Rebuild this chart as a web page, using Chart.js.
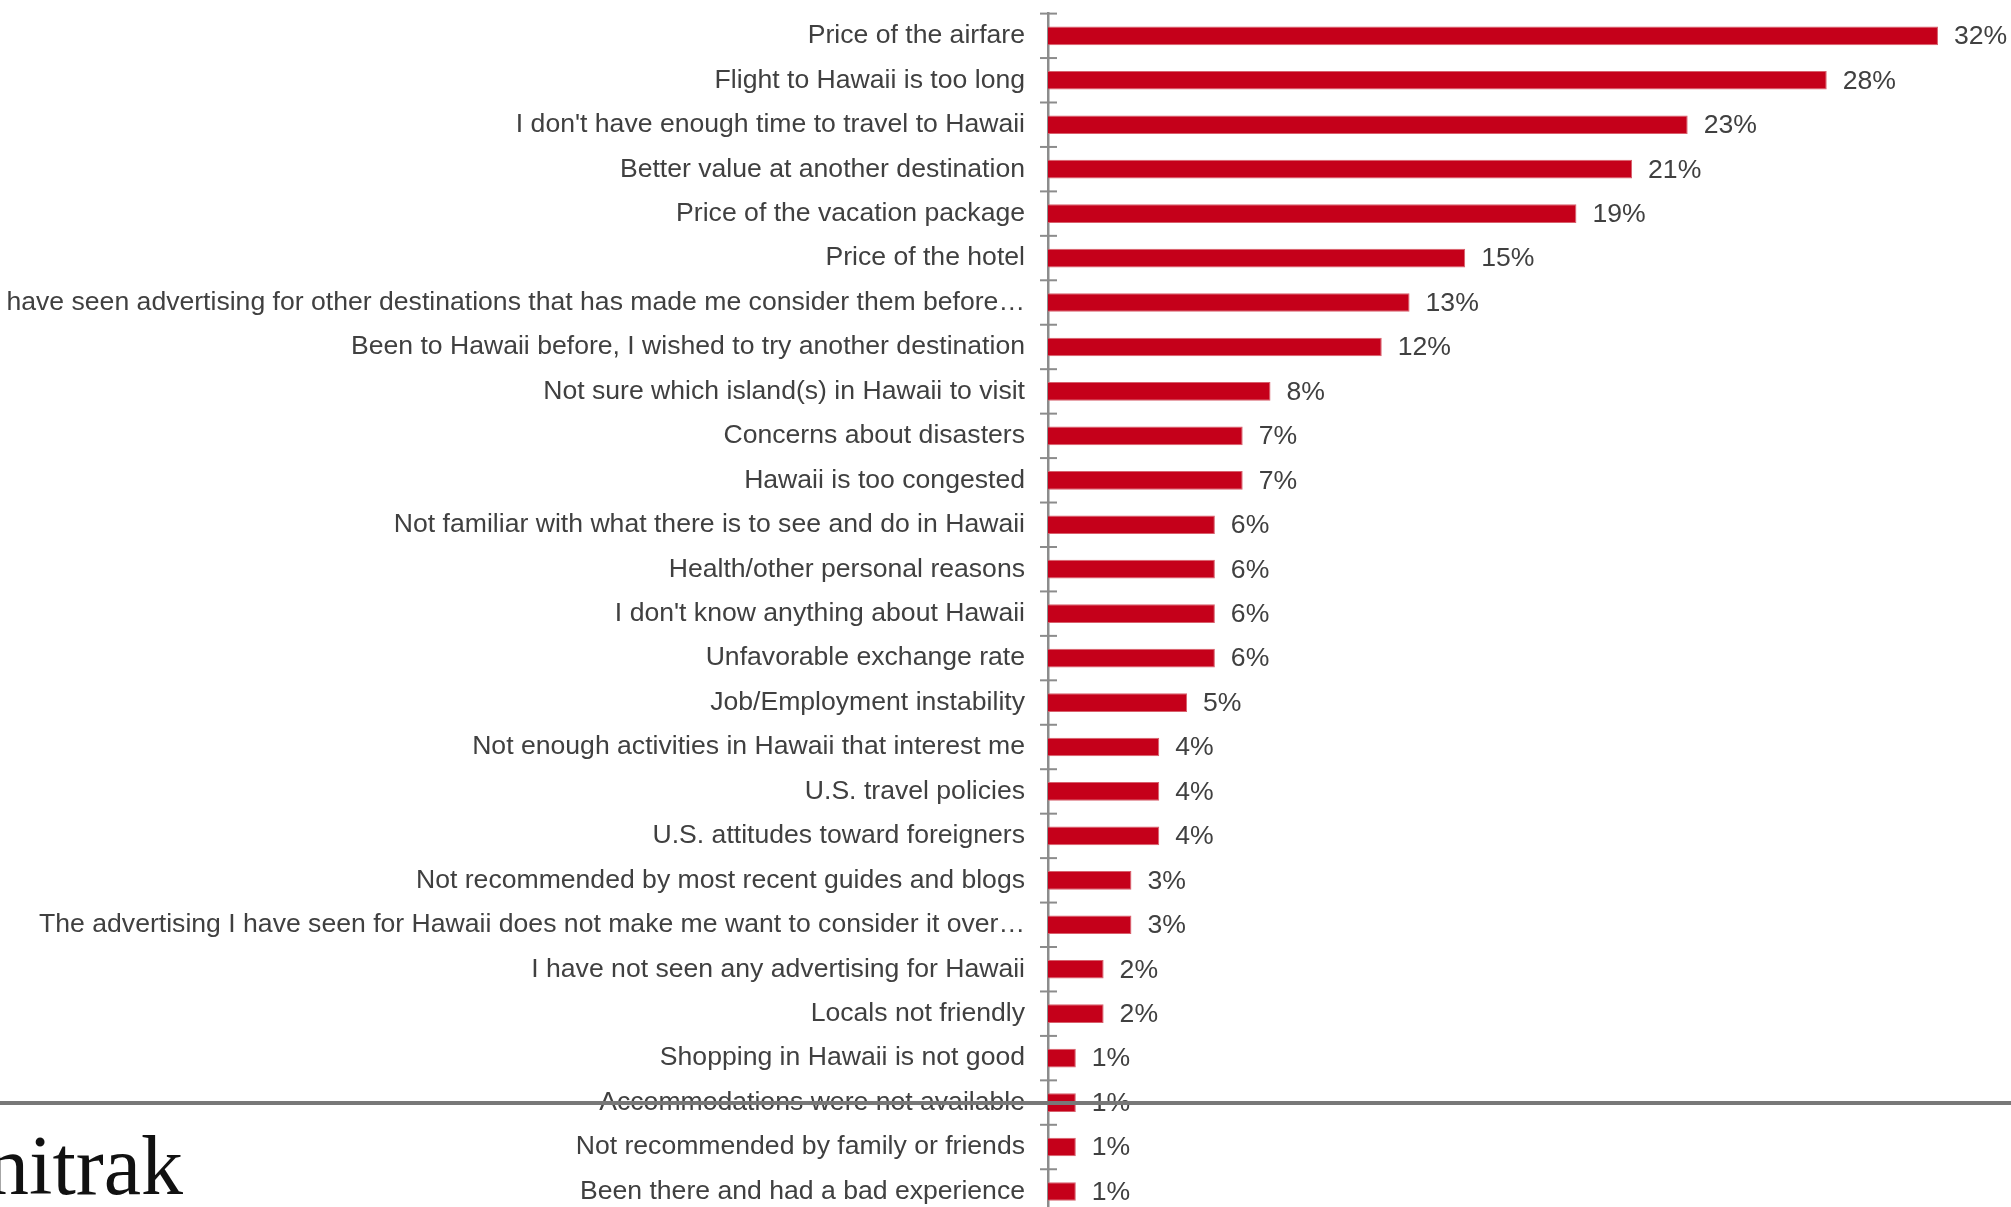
<!DOCTYPE html>
<html>
<head>
<meta charset="utf-8">
<script src="https://cdn.jsdelivr.net/npm/chart.js@4.4.1/dist/chart.umd.min.js"></script>
<style>
  html, body { margin: 0; padding: 0; background: #fff; overflow: hidden; }
  #wrap { position: relative; width: 2011px; height: 1207px; overflow: hidden; }
  #grafico { position: absolute; left: 0; top: 0; }
  .linea { position: absolute; left: 0; top: 1101px; width: 2011px; height: 4px; background: #787878; z-index: 2; }
  .logo { position: absolute; right: 1828px; top: 1124px; font-family: "Liberation Serif", "DejaVu Serif", serif;
          font-size: 84px; line-height: 84px; color: #111; white-space: nowrap; z-index: 2; }
</style>
</head>
<body>
<div id="wrap">
  <canvas id="grafico" width="2011" height="1230"></canvas>
  <div class="linea"></div>
  <div class="logo">Omnitrak</div>
</div>
<script>
const motivos = [
  'Price of the airfare',
  'Flight to Hawaii is too long',
  "I don't have enough time to travel to Hawaii",
  'Better value at another destination',
  'Price of the vacation package',
  'Price of the hotel',
  'I have seen advertising for other destinations that has made me consider them before\u2026',
  'Been to Hawaii before, I wished to try another destination',
  'Not sure which island(s) in Hawaii to visit',
  'Concerns about disasters',
  'Hawaii is too congested',
  'Not familiar with what there is to see and do in Hawaii',
  'Health/other personal reasons',
  "I don't know anything about Hawaii",
  'Unfavorable exchange rate',
  'Job/Employment instability',
  'Not enough activities in Hawaii that interest me',
  'U.S. travel policies',
  'U.S. attitudes toward foreigners',
  'Not recommended by most recent guides and blogs',
  'The advertising I have seen for Hawaii does not make me want to consider it over\u2026',
  'I have not seen any advertising for Hawaii',
  'Locals not friendly',
  'Shopping in Hawaii is not good',
  'Accommodations were not available',
  'Not recommended by family or friends',
  'Been there and had a bad experience'
];
const porcentajes = [32, 28, 23, 21, 19, 15, 13, 12, 8, 7, 7, 6, 6, 6, 6, 5, 4, 4, 4, 3, 3, 2, 2, 1, 1, 1, 1];
const ejeMin = 0;
const ejeMax = 34;

const fuente = '"Liberation Sans", Arial, sans-serif';
const colorTexto = '#404040';

// etiquetas de valor al final de cada barra
const etiquetasValor = {
  id: 'etiquetasValor',
  afterDatasetsDraw(chart) {
    const ctx = chart.ctx;
    const meta = chart.getDatasetMeta(0);
    ctx.save();
    ctx.font = '26.6px ' + fuente;
    ctx.fillStyle = colorTexto;
    ctx.textAlign = 'left';
    ctx.textBaseline = 'middle';
    meta.data.forEach((bar, i) => {
      ctx.fillText(porcentajes[i] + '%', bar.x + 16, bar.y + 1);
    });
    ctx.restore();
  }
};

// marcas del eje entre categorias (a ambos lados del eje)
const marcasEje = {
  id: 'marcasEje',
  afterDraw(chart) {
    const y = chart.scales.y;
    const ctx = chart.ctx;
    const x = chart.chartArea.left;
    ctx.save();
    ctx.strokeStyle = '#8c8c8c';
    ctx.lineWidth = 2;
    for (let i = 0; i <= motivos.length; i++) {
      const py = y.getPixelForValue(i - 0.5);
      ctx.beginPath();
      ctx.moveTo(x - 8, py);
      ctx.lineTo(x + 9, py);
      ctx.stroke();
    }
    ctx.restore();
  }
};

const ctx = document.getElementById('grafico').getContext('2d');
new Chart(ctx, {
  type: 'bar',
  data: {
    labels: motivos,
    datasets: [{
      data: porcentajes,
      backgroundColor: '#C5001A',
      borderColor: '#d7606c',
      borderWidth: 1,
      barPercentage: 0.42,
      categoryPercentage: 1
    }]
  },
  options: {
    indexAxis: 'y',
    responsive: false,
    animation: false,
    devicePixelRatio: 1,
    layout: { padding: { top: 13.6, bottom: 16.3, left: 0, right: 17.4 } },
    plugins: {
      legend: { display: false },
      tooltip: { enabled: false }
    },
    scales: {
      x: {
        display: false,
        min: ejeMin,
        max: ejeMax
      },
      y: {
        afterFit(scale) {
          scale.width = 1048;
          scale.paddingTop = 0;
          scale.paddingBottom = 0;
        },
        grid: { display: false, drawTicks: false },
        border: { display: true, color: '#8c8c8c', width: 2.5 },
        ticks: {
          padding: 23,
          autoSkip: false,
          color: colorTexto,
          font: { family: fuente, size: 26.6 }
        }
      }
    }
  },
  plugins: [etiquetasValor, marcasEje]
});
</script>
</body>
</html>
